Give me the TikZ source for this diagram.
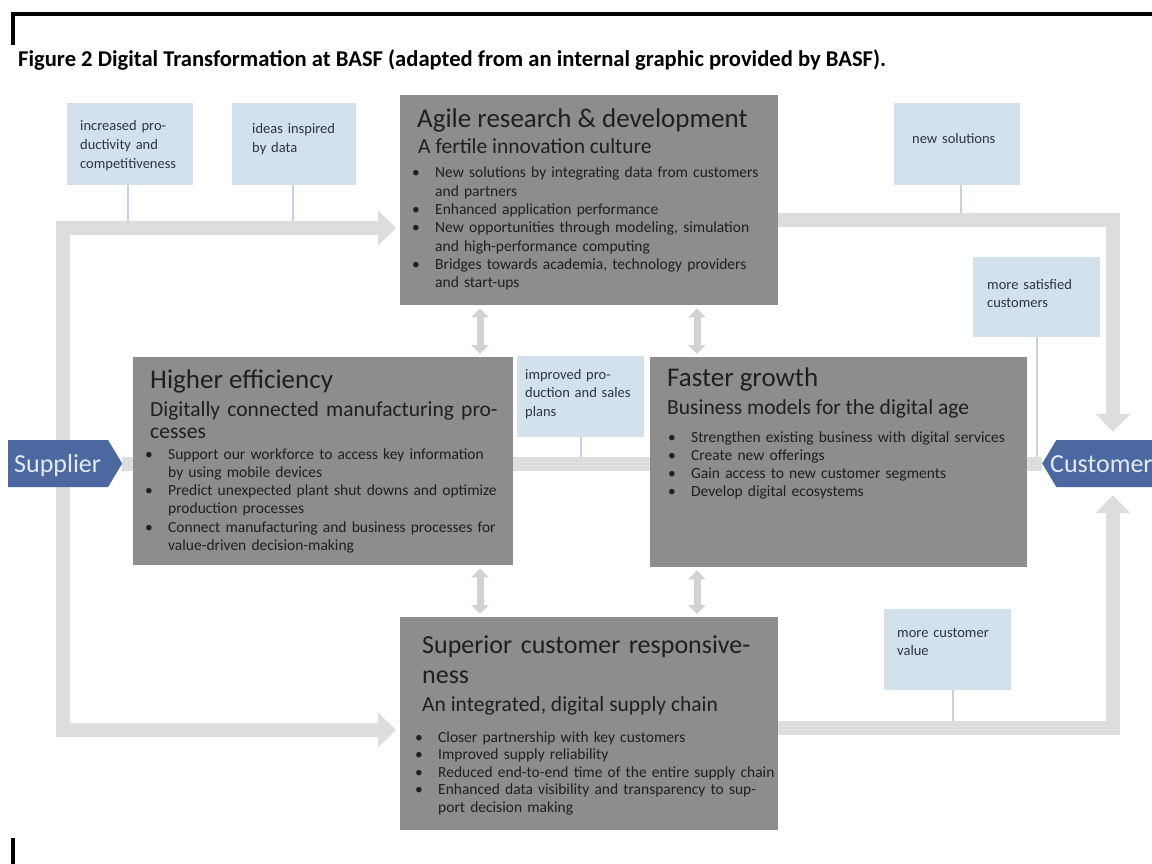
\documentclass[tikz,border=0pt]{standalone}
\usepackage{fontspec}
\setmainfont{Carlito}
\usetikzlibrary{arrows.meta,calc,shapes.symbols}

\definecolor{boxgray}{HTML}{8D8D8D}
\definecolor{notebl}{HTML}{D3E1EC}
\definecolor{flowgr}{HTML}{DDDDDD}
\definecolor{dblgr}{HTML}{D2D2D2}
\definecolor{linkbl}{HTML}{C3D3E1}
\definecolor{ink}{HTML}{1E1E24}
\definecolor{noteink}{HTML}{2E3444}
\definecolor{endblue}{HTML}{4B69A0}
\definecolor{endtext}{HTML}{E4EAF4}

\pgfdeclarelayer{flows}
\pgfsetlayers{flows,main}

% one bullet point with hanging indent (use \newline for manual breaks)
\newcommand\bpt[1]{\noindent\hangindent=23pt\hangafter=1\makebox[23pt][l]{\textbullet}#1\par}

\tikzset{
  panel/.style={fill=boxgray, draw=none, anchor=north west, inner sep=0pt},
  note/.style={fill=notebl, draw=none, anchor=north west, inner sep=0pt},
  head/.style={anchor=base west, inner sep=0pt, font=\fontsize{27}{30}\selectfont, text=ink},
  sub/.style={anchor=base west, inner sep=0pt, font=\fontsize{21.5}{22}\selectfont, text=ink},
  bullets/.style={anchor=base west, inner sep=0pt, text width=#1,
    font=\fontsize{15.5}{18.3}\selectfont, text=ink},
  notetext/.style={anchor=base west, inner sep=0pt, text width=#1, align=left,
    font=\fontsize{14.5}{18.8}\selectfont, text=noteink},
  flow/.style={draw=flowgr, line width=14pt, line join=miter},
  bigtip/.style={-{Triangle[width=34pt,length=18pt]}},
  dbl/.style={draw=dblgr, line width=7pt, shorten <=3pt, shorten >=3pt,
    {Triangle[width=17pt,length=9pt]}-{Triangle[width=17pt,length=9pt]}},
  link/.style={draw=linkbl, line width=1.6pt},
  endpoint/.style={signal, fill=endblue, draw=none, inner sep=0pt, anchor=west,
    minimum height=47pt, signal pointer angle=118},
  endlabel/.style={anchor=base west, inner sep=0pt, text=endtext, font=\fontsize{26}{30}\selectfont},
}

\begin{document}
\begin{tikzpicture}[x=1pt,y=-1pt]
\useasboundingbox (0,0) rectangle (1152,864);
\clip (0,0) rectangle (1152,864);
\begin{pgfonlayer}{flows}
\fill[white] (0,0) rectangle (1152,864);
\end{pgfonlayer}

% frame marks and caption
\draw[line width=4pt] (13,45) -- (13,14) -- (1152,14);
\draw[line width=4pt] (13,838) -- (13,864);
\node[anchor=base west, inner sep=0pt, font=\bfseries\fontsize{22.6}{26}\selectfont, text=black] (cap) at (18,67)
  {Figure 2 Digital Transformation at BASF (adapted from an internal graphic provided by BASF).};

% the four main panels
\node[panel, minimum width=378pt, minimum height=210pt] (rd) at (400,95) {};
\node[panel, minimum width=380pt, minimum height=208pt] (he) at (133,357) {};
\node[panel, minimum width=377pt, minimum height=210pt] (fg) at (650,357) {};
\node[panel, minimum width=378pt, minimum height=213pt] (sc) at (400,617) {};

% end points
\node[endpoint, signal to=east, minimum width=114pt] (sup) at (8,463.5) {};
\node[endpoint, signal to=west, minimum width=125pt] (cust) at (1042,463.5) {};

% flow lines, kept under the panels
\coordinate (ltc) at (63,228);
\coordinate (lbc) at (63,730);
\coordinate (rtc) at (1113,220);
\coordinate (rbc) at (1113,728);
\begin{pgfonlayer}{flows}
\draw[flow] (sup.east) -- (cust.west);
\draw[flow, bigtip, shorten >=4pt] (lbc) -- (ltc) -- (ltc -| rd.west);
\draw[flow, bigtip, shorten >=4pt] (ltc) -- (lbc) -- (lbc -| sc.west);
\draw[flow, bigtip, shorten >=8pt] (rtc -| rd.east) -- (rtc) -- (rtc |- cust.north);
\draw[flow, bigtip, shorten >=8pt] (rbc -| sc.east) -- (rbc) -- (rbc |- cust.south);
\end{pgfonlayer}

% two-way links between the panels
\draw[dbl] ([xshift=80pt]rd.south west) -- ([xshift=80pt]rd.south west |- he.north);
\draw[dbl] ([xshift=297pt]rd.south west) -- ([xshift=297pt]rd.south west |- fg.north);
\draw[dbl] ([xshift=80pt]sc.north west) -- ([xshift=80pt]sc.north west |- he.south);
\draw[dbl] ([xshift=297pt]sc.north west) -- ([xshift=297pt]sc.north west |- fg.south);

% outcome notes
\node[note, minimum width=126pt, minimum height=82pt] (inc) at (67,103) {};
\node[note, minimum width=124pt, minimum height=82pt] (idea) at (232,103) {};
\node[note, minimum width=126pt, minimum height=82pt] (nsol) at (894,103) {};
\node[note, minimum width=127pt, minimum height=80pt] (msat) at (973,257) {};
\node[note, minimum width=127pt, minimum height=81pt] (prod) at (517,356) {};
\node[note, minimum width=127pt, minimum height=81pt] (mval) at (884,609) {};

\node[notetext=120pt] (inct) at (80,131) {increased pro-\\ductivity and\\competitiveness};
\node[notetext=110pt] (ideat) at (252,134) {ideas inspired\\by data};
\node[notetext=110pt] (nsolt) at (912,144) {new solutions};
\node[notetext=110pt] (msatt) at (987,289) {more satisfied\\customers};
\node[notetext=115pt] (prodt) at (525,379) {improved pro-\\duction and sales\\plans};
\node[notetext=115pt] (mvalt) at (897,637) {more customer\\value};

% thin ties from the notes to the flows
\draw[link, shorten >=7pt] ([xshift=-2pt]inc.south) -- ([xshift=-2pt]inc.south |- ltc);
\draw[link, shorten >=7pt] ([xshift=-1pt]idea.south) -- ([xshift=-1pt]idea.south |- ltc);
\draw[link, shorten >=7pt] ([xshift=4pt]nsol.south) -- ([xshift=4pt]nsol.south |- rtc);
\draw[link, shorten >=7pt] (msat.south) -- (msat.south |- cust.west);
\draw[link, shorten >=7pt] (prod.south) -- (prod.south |- sup.east);
\draw[link, shorten >=7pt] ([xshift=5pt]mval.south) -- ([xshift=5pt]mval.south |- rbc);

% end point labels
\node[endlabel] (supt) at (14,472) {Supplier};
\node[endlabel] (custt) at (1050,472) {Customer};

% Agile research & development
\node[head] (rdh) at (417,128) {Agile research \& development};
\node[sub] (rds) at (418,154) {A fertile innovation culture};
\node[bullets=362pt] (rdb) at (412,178) {\raggedright
  \bpt{New solutions by integrating data from customers\newline and partners}%
  \bpt{Enhanced application performance}%
  \bpt{New opportunities through modeling, simulation\newline and high-performance computing}%
  \bpt{Bridges towards academia, technology providers\newline and start-ups}};

% Higher efficiency
\node[head] (heh) at (150,388) {Higher efficiency};
\node[sub, text width=365pt, align=left] (hes) at (150,416) {Digitally connected manufacturing pro-\\cesses};
\node[bullets=365pt] (heb) at (145,459) {\raggedright
  \bpt{Support our workforce to access key information\newline by using mobile devices}%
  \bpt{Predict unexpected plant shut downs and optimize\newline production processes}%
  \bpt{Connect manufacturing and business processes for\newline value-driven decision-making}};

% Faster growth
\node[head] (fgh) at (667,386) {Faster growth};
\node[sub] (fgs) at (667,414) {Business models for the digital age};
\node[bullets=355pt] (fgb) at (668,442) {\raggedright
  \bpt{Strengthen existing business with digital services}%
  \bpt{Create new offerings}%
  \bpt{Gain access to new customer segments}%
  \bpt{Develop digital ecosystems}};

% Superior customer responsiveness
\node[head, text width=360pt, align=left, font=\fontsize{26}{30}\selectfont] (sch) at (422,653) {Superior customer responsive-\\ness};
\node[sub] (scs) at (422,711) {An integrated, digital supply chain};
\node[bullets=360pt, font=\fontsize{15.5}{17.5}\selectfont] (scb) at (415,742) {\raggedright
  \bpt{Closer partnership with key customers}%
  \bpt{Improved supply reliability}%
  \bpt{Reduced end-to-end time of the entire supply chain}%
  \bpt{Enhanced data visibility and transparency to sup-\newline port decision making}};
\end{tikzpicture}
\end{document}
